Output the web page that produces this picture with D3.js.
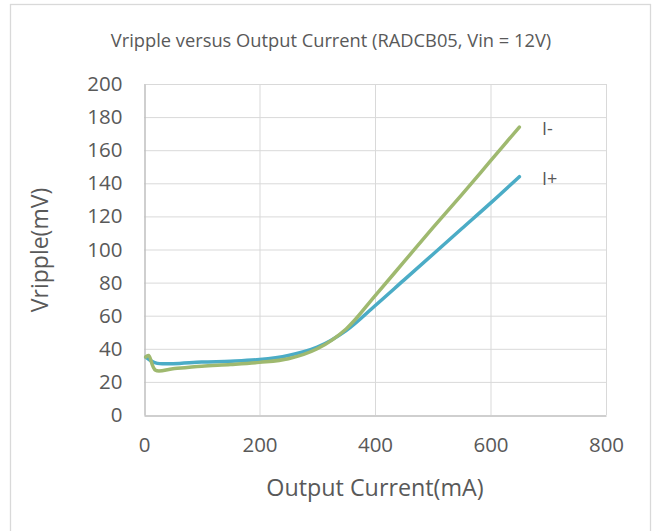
<!DOCTYPE html>
<html>
<head>
<meta charset="utf-8">
<script src="https://cdn.jsdelivr.net/npm/d3@7"></script>
<style>
  body { margin: 0; background: #fff; }
  text { font-family: "Open Sans", "Noto Sans", sans-serif; fill: #595959; }
</style>
</head>
<body>
<svg id="chart" width="655" height="531"></svg>
<script>
(function() {
  // values
  var currentPlus  = [3, 20, 50, 100, 150, 200, 250, 300, 350, 400, 450, 500, 550, 600, 650],
      ripplePlus   = [35, 31.5, 31, 32, 32.5, 33.5, 36, 41, 51, 66, 81.5, 97, 112.5, 128, 144];
  var currentMinus = [3, 8, 20, 50, 100, 150, 200, 250, 300, 350, 400, 450, 500, 550, 600, 650],
      rippleMinus  = [35, 36, 27, 28, 29.5, 30.5, 31.8, 34, 40, 52, 72, 92.5, 113, 133, 153.5, 174];
  var xTicks = [0, 200, 400, 600, 800],
      yTicks = [0, 20, 40, 60, 80, 100, 120, 140, 160, 180, 200];
  var seriesNames = ["I-", "I+"];

  var svg = d3.select("#chart"),
      left = 144, right = 606, top = 84, bottom = 415;

  var x = d3.scaleLinear().domain([0, 800]).range([left, right]),
      y = d3.scaleLinear().domain([0, 200]).range([bottom, top]);

  // outer chart border
  svg.append("rect")
    .attr("x", 10.5).attr("y", 4.5)
    .attr("width", 640).attr("height", 540)
    .attr("fill", "none")
    .attr("stroke", "#d9d9d9")
    .attr("stroke-width", 1.3);

  svg.append("text")
    .attr("x", 331).attr("y", 47)
    .attr("text-anchor", "middle")
    .style("font-size", "18.3px")
    .text("Vripple versus Output Current (RADCB05, Vin = 12V)");

  // gridlines
  var grid = svg.append("g").attr("stroke", "#d9d9d9").attr("stroke-width", 1);
  grid.selectAll("line.h")
    .data(yTicks.slice(1))
  .enter().append("line")
    .attr("x1", left).attr("x2", right)
    .attr("y1", function(d) { return y(d) + 0.5; })
    .attr("y2", function(d) { return y(d) + 0.5; });
  grid.selectAll("line.v")
    .data(xTicks.slice(1))
  .enter().append("line")
    .attr("y1", top).attr("y2", bottom)
    .attr("x1", function(d) { return x(d) + 0.5; })
    .attr("x2", function(d) { return x(d) + 0.5; });

  // axes
  var xAxis = svg.append("g")
    .attr("transform", "translate(0," + (bottom + 0.5) + ")")
    .call(d3.axisBottom(x).tickValues(xTicks).tickSize(0).tickPadding(22));
  var yAxis = svg.append("g")
    .attr("transform", "translate(" + (left + 0.5) + ",0)")
    .call(d3.axisLeft(y).tickValues(yTicks).tickSize(0).tickPadding(22));
  [xAxis, yAxis].forEach(function(a) {
    a.select(".domain").attr("stroke", "#bfbfbf").attr("stroke-width", 1.5);
    a.selectAll("text")
      .style("font-size", "20.5px")
      .style("font-family", "'Open Sans', sans-serif")
      .attr("fill", "#595959");
  });

  svg.append("text")
    .attr("x", 375).attr("y", 496)
    .attr("text-anchor", "middle")
    .style("font-size", "23.3px")
    .text("Output Current(mA)");

  svg.append("text")
    .attr("transform", "translate(48,250) rotate(-90)")
    .attr("text-anchor", "middle")
    .style("font-size", "23px")
    .text("Vripple(mV)");

  // series lines
  var line = d3.line()
    .x(function(d) { return x(d[0]); })
    .y(function(d) { return y(d[1]); })
    .curve(d3.curveCatmullRom.alpha(0.5));

  var plus = d3.zip(currentPlus, ripplePlus),
      minus = d3.zip(currentMinus, rippleMinus);

  svg.append("path")
    .datum(plus)
    .attr("d", line)
    .attr("fill", "none")
    .attr("stroke", "#4bacc6")
    .attr("stroke-width", 3.5)
    .attr("stroke-linecap", "round");

  svg.append("path")
    .datum(minus)
    .attr("d", line)
    .attr("fill", "none")
    .attr("stroke", "#9fb96f")
    .attr("stroke-width", 3.5)
    .attr("stroke-linecap", "round");

  // labels next to the line ends
  svg.append("text")
    .attr("x", 542).attr("y", 135)
    .style("font-size", "18px")
    .text(seriesNames[0]);
  svg.append("text")
    .attr("x", 542).attr("y", 185)
    .style("font-size", "18px")
    .text(seriesNames[1]);
})();
</script>
</body>
</html>
